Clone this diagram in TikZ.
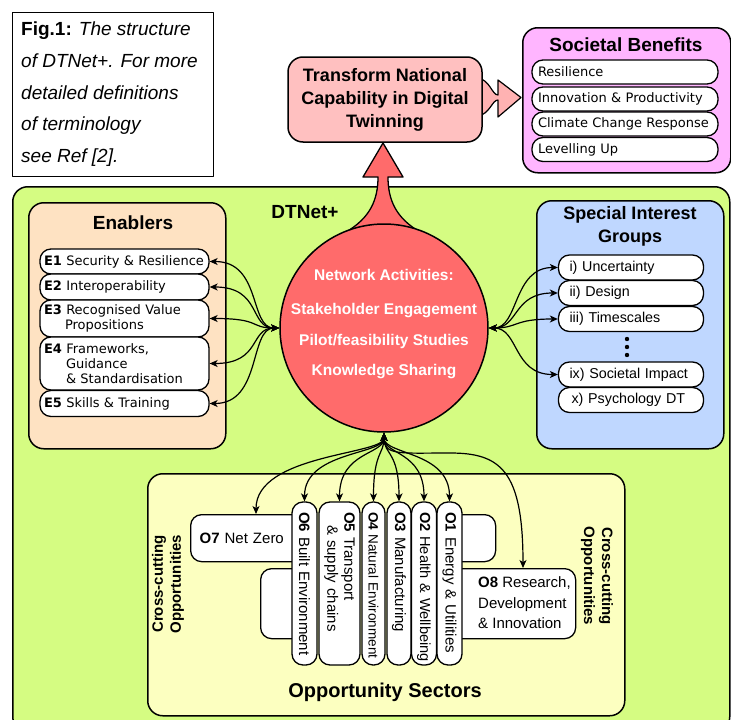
\documentclass[tikz,border=0pt]{standalone}
\usepackage{fontspec}
\setmainfont{Liberation Sans}
\newfontfamily\dvsans{DejaVu Sans}
\usetikzlibrary{arrows.meta,calc}
\definecolor{greenbg}{RGB}{213,252,130}
\definecolor{peach}{RGB}{254,226,194}
\definecolor{sigblue}{RGB}{191,215,255}
\definecolor{oppyel}{RGB}{252,255,192}
\definecolor{circred}{RGB}{255,107,107}
\definecolor{trpink}{RGB}{255,192,192}
\definecolor{arpink}{RGB}{255,178,178}
\definecolor{socpink}{RGB}{255,181,255}
\begin{document}
\begin{tikzpicture}[x=1pt,y=-1pt,line join=round,
 bigbox/.style={draw=black,line width=1.5pt,rounded corners=15pt,inner sep=0pt,anchor=north west},
 pill/.style={draw=black,line width=1.3pt,fill=white,rounded corners=11pt,inner ysep=0pt},
 title/.style={font=\fontsize{19}{23}\selectfont\bfseries},
 conn/.style={line width=1.2pt,{Stealth[length=8pt,width=7pt,inset=2.2pt]}-{Stealth[length=8pt,width=7pt,inset=2.2pt]}},
 socitem/.style={pill,minimum width=186,minimum height=24,text width=174,inner xsep=6pt,align=left,font=\dvsans\fontsize{13}{15}\selectfont},
 eitem/.style={pill,minimum width=169,text width=161,inner xsep=4pt,align=left,font=\dvsans\fontsize{13}{15}\selectfont},
 sitem/.style={pill,minimum width=145,minimum height=25,text width=123,inner xsep=11pt,align=left,font=\fontsize{14.3}{16}\selectfont},
 backbox/.style={draw=black,line width=1.3pt,rounded corners=11pt,fill=white,anchor=north west,inner sep=0pt},
 vpill/.style={pill,rotate=-90,minimum width=163,text width=161,inner xsep=1pt,align=left,font=\fontsize{15}{17}\selectfont},
]
\useasboundingbox (0,0) rectangle (731,720);
\fill[white] (0,0) rectangle (731,720);

% Figure caption
\node[draw=black,line width=1.2pt,fill=white,anchor=north west,minimum width=201,minimum height=164,inner sep=0pt] (fig) at (12,12) {};
\node[anchor=north west,align=left,inner sep=0pt,font=\fontsize{19}{31.6}\selectfont] (figt) at (21,22)
 {\textbf{Fig.1:} \textit{The structure}\\\textit{of DTNet+. For more}\\\textit{detailed definitions}\\\textit{of terminology}\\\textit{see Ref [2].}};

% arrow to societal benefits
\draw[fill=arpink,line width=1.2pt] (478,78) .. controls (490,80) and (492,95) .. (498,95) -- (498,80) -- (521,97.5) -- (498,117) -- (498,100) .. controls (492,100) and (490,114) .. (478,116) -- cycle;

% Transform box
\node[draw=black,line width=1.5pt,rounded corners=15pt,fill=trpink,minimum width=194,minimum height=85,align=center,font=\fontsize{18}{23}\selectfont\bfseries] (tr) at (385,99.5) {Transform National\\Capability in Digital\\Twinning};

% Societal benefits
\node[bigbox,fill=socpink,minimum width=208,minimum height=145] (soc) at (522,27) {};
\node[title] (soct) at (626,45) {Societal Benefits};
\node[socitem] (b1) at (625,72) {Resilience};
\node[socitem] (b2) at (625,99) {Innovation \& Productivity};
\node[socitem] (b3) at (625,124) {Climate Change Response};
\node[socitem] (b4) at (625,149.5) {Levelling Up};

% DTNet+ area
\node[bigbox,fill=greenbg,minimum width=717,minimum height=545] (dt) at (12,186) {};

% up arrow
\draw[fill=circred,line width=1.3pt] (346,232) .. controls (370,218) and (378,200) .. (378,177) -- (363,177) -- (383,143) -- (403,177) -- (388,177) .. controls (388,200) and (396,218) .. (420,232) -- cycle;

\node[font=\fontsize{19}{22}\selectfont\bfseries] (dtl) at (305,212) {DTNet+};

% Enablers
\node[bigbox,fill=peach,minimum width=197,minimum height=246] (en) at (28,202) {};
\node[title] (ent) at (133,223) {Enablers};
\node[eitem,minimum height=25] (e1) at (124.5,261.5) {\textbf{E1} Security \& Resilience};
\node[eitem,minimum height=26] (e2) at (124.5,287) {\textbf{E2} Interoperability};
\node[eitem,minimum height=37] (e3) at (124.5,318.5) {\textbf{E3} Recognised Value\\\hspace*{21pt}Propositions};
\node[eitem,minimum height=53] (e4) at (124.5,363.5) {\textbf{E4} Frameworks,\\\hspace*{22pt}Guidance\\\hspace*{22pt}\& Standardisation};
\node[eitem,minimum height=26] (e5) at (124.5,403.5) {\textbf{E5} Skills \& Training};

% Special interest groups
\node[bigbox,fill=sigblue,minimum width=187,minimum height=248] (sig) at (536,200) {};
\node[align=center,font=\fontsize{18}{23}\selectfont\bfseries] (sigt) at (630,226.5) {Special Interest\\Groups};
\node[sitem] (s1) at (631,267.5) {i) Uncertainty};
\node[sitem] (s2) at (631,293) {ii) Design};
\node[sitem] (s3) at (631,319) {iii) Timescales};
\node[sitem] (s9) at (631,374.5) {ix) Societal Impact};
\node[sitem] (s10) at (631,400) {\hspace*{2pt}x) Psychology DT};
\foreach \yy in {339,347,355} \fill (627,\yy) circle (2.2);

% Opportunity sectors
\node[bigbox,fill=oppyel,minimum width=477,minimum height=242] (opp) at (147,473) {};
\node[font=\fontsize{20}{24}\selectfont\bfseries] (oppt) at (385,692) {Opportunity Sectors};
\node[rotate=90,align=center,font=\fontsize{15}{18}\selectfont\bfseries] (ccl) at (168,584) {Cross-cutting\\Opportunities};
\node[rotate=-90,align=center,font=\fontsize{15}{18}\selectfont\bfseries] (ccr) at (597,576) {Cross-cutting\\Opportunities};

\node[backbox,minimum width=120,minimum height=47,text width=102,inner xsep=9pt,align=left,font=\fontsize{15}{18}\selectfont] (o7) at (190,514) {\textbf{O7} Net Zero};
\node[backbox,minimum width=50,minimum height=70] (ob1) at (260,568) {};
\node[backbox,minimum width=50,minimum height=47] (ob2) at (445,514) {};
\node[backbox,minimum width=130,minimum height=70] (o8) at (445,568) {};
\node[anchor=west,align=left,inner sep=0pt,font=\fontsize{15}{20.5}\selectfont] (o8t) at (478,603) {\textbf{O8} Research,\\Development\\\& Innovation};

\node[vpill,minimum height=25] (o6) at (304.5,583.5) {\hspace*{9pt}\mbox{\textbf{O6} Built Environment}};
\node[vpill,minimum height=41] (o5) at (339.5,583.5) {\hspace*{9pt}\mbox{\textbf{O5} Transport}\\\hspace*{22pt}\mbox{\& supply chains}};
\node[vpill,minimum height=23,font=\fontsize{13.5}{16}\selectfont] (o4) at (373.5,583.5) {\hspace*{9pt}\mbox{\textbf{O4} Natural Environment}};
\node[vpill,minimum height=24] (o3) at (399,583.5) {\hspace*{9pt}\mbox{\textbf{O3} Manufacturing}};
\node[vpill,minimum height=25,font=\fontsize{14.6}{17}\selectfont] (o2) at (424,583.5) {\hspace*{9pt}\mbox{\textbf{O2} Health \& Wellbeing}};
\node[vpill,minimum height=25] (o1) at (449.5,583.5) {\hspace*{9pt}\mbox{\textbf{O1} Energy \& Utilities}};

% Network activities circle
\node[circle,draw=black,line width=1.5pt,fill=circred,minimum size=208,inner sep=0pt] (c) at (384,328) {};
\node[text=white,align=center,font=\fontsize{15.5}{30.5}\selectfont\bfseries] (ct) at (384,324.5) {Network Activities:\\[3.5pt]Stakeholder Engagement\\Pilot/feasibility Studies\\Knowledge Sharing};

% connectors
\foreach \e in {e1,e2,e3,e4,e5}
  \draw[conn] (\e.east) .. controls +(52,0) and +(-30,0) .. (c.west);
\foreach \s in {s1,s2,s3,s9}
  \draw[conn] (c.east) .. controls +(30,0) and +(-45,0) .. (\s.west);
\foreach \o in {o6,o5,o4,o3,o2,o1}
  \draw[conn] (c.south) .. controls +(0,22) and +(0,-50) .. (\o.west);
\draw[conn] (c.south) .. controls +(0,22) and +(0,-60) .. ($(o7.north west)+(66,0)$);
\draw[conn] (c.south) .. controls +(0,23) and (400,453) .. (450,453) .. controls (500,453) and (523,470) .. ($(o8.north west)+(78,0)$);
\end{tikzpicture}
\end{document}
